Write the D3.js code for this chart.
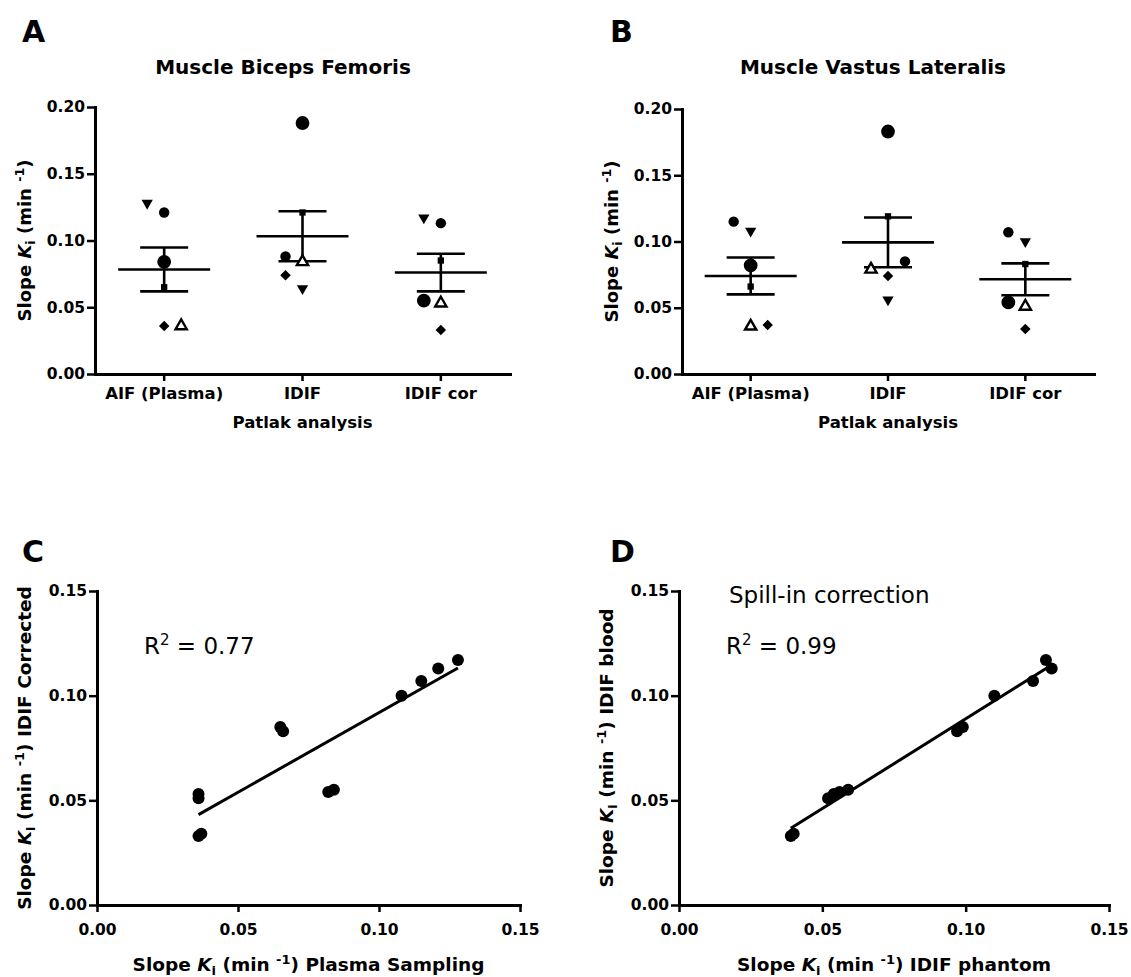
<!DOCTYPE html>
<html><head><meta charset="utf-8">
<script src="https://cdn.jsdelivr.net/npm/d3@7"></script>
<style>body{margin:0;background:#fff} svg{display:block}</style>
</head><body>
<svg id="chart" width="1131" height="977"></svg>
<script>
// ---------- data ----------
const groups = ["AIF (Plasma)", "IDIF", "IDIF cor"];
const subjects = ["circle", "bigCircle", "triangleDown", "square", "diamond", "openTriangle"];
// Muscle Biceps Femoris (panel A)
const femorisAIF     = [0.121, 0.084, 0.128, 0.065, 0.036, 0.036];
const femorisIDIF    = [0.088, 0.188, 0.064, 0.121, 0.074, 0.084];
const femorisIDIFcor = [0.113, 0.055, 0.117, 0.085, 0.033, 0.053];
// Muscle Vastus Lateralis (panel B)
const lateralisAIF     = [0.115, 0.082, 0.108, 0.066, 0.037, 0.036];
const lateralisIDIF    = [0.085, 0.183, 0.056, 0.119, 0.074, 0.079];
const lateralisIDIFcor = [0.107, 0.054, 0.100, 0.083, 0.034, 0.051];
// IDIF phantom (panel D x values)
const femorisPhantom   = [0.130, 0.059, 0.128, 0.099, 0.039, 0.054];
const lateralisPhantom = [0.1235, 0.056, 0.110, 0.097, 0.040, 0.052];
const ticksAB = [0, 0.05, 0.10, 0.15, 0.20];
const ticksCD = [0, 0.05, 0.10, 0.15];
const r2C = "0.77", r2D = "0.99";

// ---------- helpers ----------
const FONT = '"DejaVu Sans", sans-serif';
const svg = d3.select("#chart");
const fmt = d3.format(".2f");

function styleAxis(g, fs) {
  g.attr("font-family", FONT).attr("font-size", fs).attr("font-weight", "bold");
  g.select(".domain").attr("stroke", "#000").attr("stroke-width", 3).attr("stroke-linecap", "square");
  g.selectAll(".tick line").attr("stroke", "#000").attr("stroke-width", 2.5);
  g.selectAll(".tick text").attr("fill", "#000");
}

function kLabel(t, fs, suffix) {
  t.attr("font-family", FONT).attr("font-size", fs).attr("font-weight", "bold").attr("fill", "#000");
  t.append("tspan").text("Slope ");
  t.append("tspan").attr("font-style", "italic").text("K");
  const sub = fs * 0.22;
  t.append("tspan").attr("font-size", fs * 0.7).attr("dy", sub).text("i");
  t.append("tspan").attr("dy", -sub).text(" (min ");
  const sup = fs * 0.4;
  t.append("tspan").attr("font-size", fs * 0.7).attr("dy", -sup).text("-1");
  t.append("tspan").attr("dy", sup).text(")" + suffix);
}

function panelLetter(x, y, s) {
  svg.append("text").attr("x", x).attr("y", y).attr("font-family", FONT)
    .attr("font-size", 30).attr("font-weight", "bold").text(s);
}

const symbolDefs = {
  circle:       {path: d3.symbol(d3.symbolCircle, 85)(), rot: 0, fill: "#000"},
  bigCircle:    {path: d3.symbol(d3.symbolCircle, 150)(), rot: 0, fill: "#000"},
  triangleDown: {path: d3.symbol(d3.symbolTriangle, 55)(), rot: 180, fill: "#000"},
  square:       {path: d3.symbol(d3.symbolSquare, 40)(), rot: 0, fill: "#000"},
  diamond:      {path: d3.symbol(d3.symbolSquare, 55)(), rot: 45, fill: "#000"},
  openTriangle: {path: d3.symbol(d3.symbolTriangle, 55)(), rot: 0, fill: "#fff"}
};

function dodge(vals, y, d, thr) {
  const idx = d3.range(vals.length).sort((a, b) => vals[a] - vals[b] || a - b);
  const placed = [], off = new Array(vals.length).fill(0);
  for (const i of idx) {
    const py = y(vals[i]);
    const hit = placed.filter(p => Math.abs(p.y - py) < thr);
    const tie = hit.some(p => Math.abs(p.y - py) < 2);
    const order = tie ? [0, d, -d, 2 * d, -2 * d] : [0, -d, d, -2 * d, 2 * d];
    for (const o of order) {
      if (!placed.some(p => Math.abs(p.o - o) < thr && Math.abs(p.y - py) < thr)) {
        off[i] = o; placed.push({o, y: py}); break;
      }
    }
  }
  return off;
}

function dotPanel(cfg) {
  const x = d3.scaleBand().domain(groups).range([cfg.x0, cfg.x1]);
  const y = d3.scaleLinear().domain([0, 0.2]).range([cfg.yb, cfg.yt]);
  const gy = svg.append("g").attr("transform", `translate(${cfg.x0},0)`)
    .call(d3.axisLeft(y).tickValues(ticksAB).tickFormat(fmt).tickSize(8).tickSizeOuter(0).tickPadding(2));
  styleAxis(gy, 15.5);
  const gx = svg.append("g").attr("transform", `translate(0,${cfg.yb})`)
    .call(d3.axisBottom(x).tickSize(7).tickSizeOuter(0).tickPadding(6));
  styleAxis(gx, 16.5);

  cfg.series.forEach((vals, gi) => {
    const cx = x(groups[gi]) + x.bandwidth() / 2;
    const offs = dodge(vals, y, 17, 15);
    const m = d3.mean(vals), sem = d3.deviation(vals) / Math.sqrt(vals.length);
    const eg = svg.append("g").attr("stroke", "#000").attr("stroke-width", 2.6);
    eg.append("line").attr("x1", cx - 46).attr("x2", cx + 46).attr("y1", y(m)).attr("y2", y(m));
    eg.append("line").attr("x1", cx - 24).attr("x2", cx + 24).attr("y1", y(m + sem)).attr("y2", y(m + sem));
    eg.append("line").attr("x1", cx - 24).attr("x2", cx + 24).attr("y1", y(m - sem)).attr("y2", y(m - sem));
    eg.append("line").attr("x1", cx).attr("x2", cx).attr("y1", y(m + sem)).attr("y2", y(m - sem));
    const pg = svg.append("g");
    vals.forEach((v, i) => {
      const s = symbolDefs[subjects[i]];
      pg.append("path").attr("d", s.path)
        .attr("transform", `translate(${cx + offs[i]},${y(v)}) rotate(${s.rot})`)
        .attr("fill", s.fill).attr("stroke", "#000")
        .attr("stroke-width", subjects[i] === "openTriangle" ? 2.4 : 0);
    });
  });

  svg.append("text").attr("x", cfg.titleX).attr("y", 74).attr("text-anchor", "middle")
    .attr("font-family", FONT).attr("font-size", 20).attr("font-weight", "bold").text(cfg.title);
  svg.append("text").attr("x", (cfg.x0 + cfg.x1) / 2).attr("y", 428).attr("text-anchor", "middle")
    .attr("font-family", FONT).attr("font-size", 16.5).attr("font-weight", "bold").text("Patlak analysis");
  const yl = svg.append("text").attr("transform", `translate(${cfg.ylabX},${(cfg.yb + cfg.yt) / 2}) rotate(-90)`)
    .attr("text-anchor", "middle");
  kLabel(yl, 18, "");
}

function regPanel(cfg) {
  const x = d3.scaleLinear().domain([0, 0.15]).range([cfg.x0, cfg.x1]);
  const y = d3.scaleLinear().domain([0, 0.15]).range([905, 591]);
  const gy = svg.append("g").attr("transform", `translate(${cfg.x0},0)`)
    .call(d3.axisLeft(y).tickValues(ticksCD).tickFormat(fmt).tickSize(8).tickSizeOuter(0).tickPadding(2));
  styleAxis(gy, 15.5);
  const gx = svg.append("g").attr("transform", `translate(0,905)`)
    .call(d3.axisBottom(x).tickValues(ticksCD).tickFormat(fmt).tickSize(7).tickSizeOuter(0).tickPadding(12));
  styleAxis(gx, 15.5);

  const xs = cfg.xs, ys = cfg.ys;
  const mx = d3.mean(xs), my = d3.mean(ys);
  const sxy = d3.sum(xs, (v, i) => (v - mx) * (ys[i] - my));
  const sxx = d3.sum(xs, v => (v - mx) ** 2);
  const b = sxy / sxx, a = my - b * mx;
  const [xmin, xmax] = d3.extent(xs);
  svg.append("line").attr("x1", x(xmin)).attr("x2", x(xmax)).attr("y1", y(a + b * xmin)).attr("y2", y(a + b * xmax))
    .attr("stroke", "#000").attr("stroke-width", 3);
  svg.append("g").selectAll("circle").data(xs).join("circle")
    .attr("cx", d => x(d)).attr("cy", (d, i) => y(ys[i])).attr("r", 6).attr("fill", "#000");

  const xl = svg.append("text").attr("x", (cfg.x0 + cfg.x1) / 2).attr("y", 971).attr("text-anchor", "middle");
  kLabel(xl, 18.5, " " + cfg.xTitle);
  const yl = svg.append("text").attr("transform", `translate(${cfg.ylabX},748) rotate(-90)`).attr("text-anchor", "middle");
  kLabel(yl, 18.5, " " + cfg.yTitle);

  if (cfg.note) {
    svg.append("text").attr("x", cfg.x0 + 50).attr("y", 603).attr("font-family", FONT)
      .attr("font-size", 23).text(cfg.note);
  }
  const rt = svg.append("text").attr("x", cfg.x0 + 47).attr("y", 654).attr("font-family", FONT).attr("font-size", 23);
  rt.append("tspan").text("R");
  rt.append("tspan").attr("font-size", 15).attr("dy", -9).text("2");
  rt.append("tspan").attr("dy", 9).text(" = " + cfg.r2);
}

// ---------- panels ----------
panelLetter(22, 42, "A");
panelLetter(610, 42, "B");
panelLetter(22, 562, "C");
panelLetter(610, 562, "D");

dotPanel({x0: 95, x1: 510, yb: 374, yt: 107, titleX: 283, ylabX: 31,
  title: "Muscle Biceps Femoris", series: [femorisAIF, femorisIDIF, femorisIDIFcor]});
dotPanel({x0: 682, x1: 1094, yb: 374, yt: 109, titleX: 873, ylabX: 618,
  title: "Muscle Vastus Lateralis", series: [lateralisAIF, lateralisIDIF, lateralisIDIFcor]});

regPanel({x0: 97, x1: 520, ylabX: 31, xTitle: "Plasma Sampling", yTitle: "IDIF Corrected",
  xs: femorisAIF.concat(lateralisAIF), ys: femorisIDIFcor.concat(lateralisIDIFcor), r2: r2C});
regPanel({x0: 679, x1: 1109, ylabX: 613, xTitle: "IDIF phantom", yTitle: "IDIF blood",
  xs: femorisPhantom.concat(lateralisPhantom), ys: femorisIDIFcor.concat(lateralisIDIFcor), r2: r2D,
  note: "Spill-in correction"});
</script>
</body></html>
